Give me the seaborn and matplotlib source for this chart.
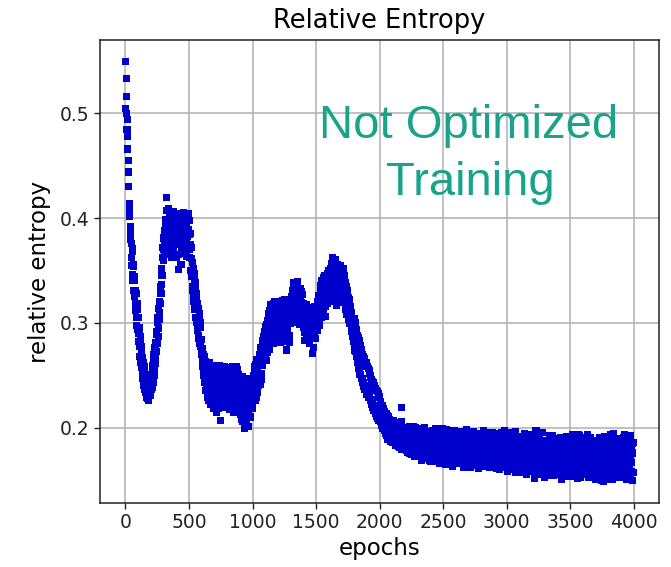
import numpy as np
import pandas as pd
import matplotlib
matplotlib.use("Agg")
import matplotlib.pyplot as plt
import seaborn as sns

# relative entropy values (x1000).
# series A: epochs 0, 5, 10, ...; series B: epochs 2.5, 7.5, 12.5, ...
# 20 values per 100-epoch block
entropy_a_0_1000 = [
    550, 533, 516, 494, 466, 444, 414, 402, 380, 376, 355, 368, 340, 354, 325, 340, 312, 328, 297, 313,
    305, 282, 293, 268, 283, 257, 272, 247, 262, 240, 253, 233, 247, 230, 243, 228, 240, 229, 244, 234,
    231, 250, 238, 259, 246, 270, 255, 281, 266, 292, 280, 305, 295, 320, 310, 335, 328, 352, 345, 372,
    370, 388, 376, 395, 372, 420, 385, 398, 366, 402, 378, 390, 362, 395, 383, 406, 371, 392, 380, 399,
    384, 362, 398, 375, 351, 392, 380, 404, 368, 388, 395, 372, 400, 381, 366, 393, 378, 402, 385, 371,
    398, 370, 385, 350, 372, 335, 358, 325, 347, 313, 338, 305, 328, 297, 318, 288, 309, 280, 300, 272,
    284, 258, 275, 250, 268, 243, 262, 238, 259, 232, 253, 226, 258, 240, 222, 251, 231, 259, 218, 246,
    236, 255, 222, 247, 230, 259, 218, 242, 251, 207, 238, 226, 254, 232, 219, 248, 240, 228, 257, 235,
    244, 221, 256, 233, 217, 249, 238, 226, 258, 230, 214, 246, 236, 252, 222, 241, 229, 255, 218, 240,
    231, 212, 245, 220, 238, 206, 226, 199, 241, 215, 233, 203, 224, 244, 211, 236, 218, 229, 247, 225,
]
entropy_a_1000_2000 = [
    222, 250, 231, 258, 226, 252, 238, 265, 233, 259, 246, 270, 241, 276, 252, 280, 259, 287, 266, 292,
    270, 296, 264, 302, 281, 306, 275, 312, 289, 317, 284, 303, 309, 280, 320, 293, 312, 287, 316, 298,
    298, 312, 287, 305, 318, 293, 309, 282, 314, 300, 322, 290, 306, 274, 311, 297, 319, 303, 288, 315,
    307, 325, 314, 331, 300, 338, 322, 312, 336, 318, 327, 305, 333, 320, 298, 326, 310, 330, 315, 303,
    318, 296, 283, 310, 302, 292, 315, 300, 288, 309, 297, 305, 285, 312, 271, 303, 294, 316, 289, 307,
    311, 298, 320, 306, 326, 314, 302, 331, 318, 340, 322, 310, 335, 325, 345, 316, 338, 328, 347, 333,
    341, 326, 352, 335, 357, 330, 362, 345, 320, 354, 338, 349, 317, 356, 341, 333, 350, 327, 346, 335,
    350, 326, 342, 352, 320, 340, 313, 335, 318, 308, 331, 303, 322, 299, 316, 292, 310, 287, 303, 282,
    304, 274, 297, 268, 291, 262, 286, 256, 280, 251, 276, 247, 272, 243, 268, 239, 264, 236, 260, 232,
    262, 234, 256, 229, 252, 226, 248, 222, 244, 219, 242, 216, 239, 213, 236, 211, 234, 209, 231, 207,
]
entropy_a_2000_3000 = [
    230, 206, 225, 202, 221, 199, 218, 197, 215, 194, 213, 192, 211, 189, 210, 193, 208, 187, 207, 191,
    203, 186, 207, 190, 201, 184, 205, 189, 199, 182, 203, 188, 197, 181, 206, 219, 194, 184, 200, 186,
    194, 182, 199, 187, 176, 195, 185, 201, 180, 191, 174, 197, 186, 182, 193, 178, 200, 188, 183, 192,
    190, 176, 195, 183, 172, 198, 186, 179, 193, 174, 188, 200, 181, 170, 192, 185, 177, 196, 184, 175,
    168, 188, 179, 197, 173, 185, 192, 176, 199, 182, 170, 190, 186, 178, 194, 171, 183, 196, 175, 189,
    184, 171, 193, 178, 165, 189, 181, 196, 174, 186, 169, 191, 177, 183, 163, 188, 175, 197, 180, 172,
    187, 174, 195, 170, 182, 190, 166, 185, 177, 193, 172, 180, 162, 189, 176, 184, 198, 171, 181, 168,
    176, 191, 169, 183, 174, 196, 180, 164, 187, 173, 179, 192, 167, 185, 175, 161, 189, 178, 194, 170,
    183, 168, 190, 176, 197, 172, 181, 163, 186, 177, 193, 170, 179, 188, 165, 184, 174, 195, 171, 180,
    173, 189, 166, 182, 175, 194, 169, 185, 160, 178, 191, 172, 183, 167, 187, 176, 197, 170, 181, 164,
]
entropy_a_3000_4000 = [
    179, 158, 186, 171, 193, 167, 182, 175, 190, 163, 177, 185, 169, 196, 174, 161, 188, 172, 180, 166,
    184, 170, 191, 163, 178, 187, 168, 175, 194, 160, 181, 173, 189, 165, 177, 186, 171, 158, 183, 176,
    170, 188, 162, 180, 151, 176, 197, 167, 184, 173, 159, 190, 178, 165, 186, 171, 182, 157, 175, 168,
    181, 164, 187, 172, 156, 178, 169, 192, 160, 176, 185, 166, 179, 154, 183, 171, 163, 189, 174, 158,
    168, 182, 155, 175, 190, 162, 179, 171, 153, 186, 166, 177, 160, 184, 173, 157, 188, 169, 180, 164,
    176, 159, 185, 167, 193, 154, 180, 172, 162, 188, 170, 151, 183, 165, 178, 192, 158, 174, 166, 186,
    161, 179, 170, 190, 155, 184, 167, 175, 152, 187, 163, 181, 173, 157, 178, 169, 185, 160, 176, 150,
    183, 162, 174, 156, 188, 168, 151, 179, 165, 185, 159, 176, 148, 182, 170, 154, 187, 166, 177, 161,
    172, 157, 184, 193, 163, 178, 150, 187, 168, 155, 181, 174, 160, 189, 166, 152, 179, 170, 185, 158,
    167, 181, 153, 190, 172, 160, 185, 175, 150, 188, 164, 178, 156, 183, 170, 192, 158, 176, 149, 186,
]
entropy_b_0_1000 = [
    505, 500, 485, 478, 455, 430, 408, 392, 386, 362, 371, 346, 356, 331, 344, 318, 331, 305, 318, 294,
    290, 295, 277, 287, 262, 277, 252, 267, 243, 258, 236, 251, 229, 246, 233, 239, 226, 243, 237, 245,
    242, 236, 255, 243, 266, 250, 276, 261, 289, 273, 300, 287, 314, 303, 328, 318, 345, 337, 362, 360,
    381, 365, 399, 383, 407, 376, 391, 409, 380, 369, 396, 385, 404, 374, 389, 367, 400, 386, 376, 394,
    375, 397, 386, 365, 401, 378, 389, 356, 395, 382, 370, 405, 387, 376, 398, 363, 391, 382, 404, 389,
    384, 362, 375, 344, 361, 331, 352, 320, 341, 316, 333, 300, 324, 293, 314, 285, 305, 277, 296, 270,
    272, 264, 252, 270, 246, 263, 235, 255, 243, 229, 249, 262, 233, 244, 255, 226, 241, 250, 229, 253,
    228, 249, 240, 214, 255, 236, 247, 225, 259, 233, 220, 244, 251, 229, 239, 258, 223, 246, 232, 253,
    232, 250, 226, 241, 255, 219, 245, 234, 222, 252, 240, 227, 248, 216, 258, 235, 246, 224, 251, 230,
    222, 240, 208, 231, 249, 216, 235, 204, 228, 245, 213, 238, 220, 201, 232, 247, 226, 210, 239, 218,
]
entropy_b_1000_2000 = [
    240, 227, 255, 235, 244, 260, 229, 248, 255, 240, 263, 250, 268, 246, 272, 262, 283, 270, 278, 287,
    283, 277, 298, 272, 290, 309, 283, 297, 305, 293, 314, 280, 299, 318, 290, 305, 296, 320, 284, 309,
    306, 294, 317, 281, 302, 310, 296, 321, 288, 308, 297, 313, 284, 302, 319, 292, 308, 281, 311, 299,
    318, 302, 329, 311, 322, 335, 307, 318, 328, 301, 339, 316, 309, 324, 312, 333, 303, 319, 327, 309,
    300, 312, 291, 306, 317, 284, 298, 309, 293, 280, 302, 314, 290, 298, 306, 276, 310, 299, 285, 313,
    302, 316, 293, 325, 309, 297, 320, 336, 305, 328, 314, 343, 320, 330, 306, 340, 322, 344, 318, 350,
    330, 348, 320, 344, 325, 350, 337, 355, 328, 346, 360, 331, 343, 324, 352, 338, 319, 345, 355, 329,
    338, 347, 322, 335, 345, 328, 338, 308, 326, 318, 311, 324, 300, 315, 306, 296, 304, 291, 296, 285,
    280, 300, 273, 294, 267, 288, 261, 283, 256, 278, 251, 274, 247, 270, 243, 266, 240, 262, 236, 258,
    240, 258, 235, 254, 231, 250, 227, 246, 224, 243, 221, 240, 218, 237, 215, 235, 213, 232, 211, 229,
]
entropy_b_2000_3000 = [
    210, 222, 206, 218, 203, 215, 201, 212, 199, 209, 196, 207, 194, 205, 192, 203, 190, 201, 188, 200,
    195, 198, 188, 196, 192, 183, 197, 186, 194, 190, 181, 195, 188, 192, 179, 199, 187, 193, 182, 191,
    187, 196, 178, 190, 183, 199, 175, 186, 194, 181, 189, 178, 201, 184, 172, 196, 187, 180, 198, 184,
    182, 193, 178, 187, 199, 169, 189, 181, 195, 177, 184, 171, 196, 180, 188, 173, 192, 181, 169, 189,
    184, 175, 193, 168, 186, 180, 173, 195, 178, 187, 197, 174, 182, 166, 191, 179, 187, 172, 199, 180,
    176, 193, 167, 184, 198, 173, 187, 170, 182, 192, 166, 179, 186, 172, 195, 181, 168, 184, 190, 177,
    178, 166, 188, 181, 173, 196, 184, 171, 191, 168, 186, 177, 194, 183, 170, 190, 165, 179, 187, 174,
    185, 172, 180, 162, 190, 177, 186, 196, 171, 182, 165, 188, 176, 193, 169, 184, 174, 181, 163, 187,
    171, 189, 175, 163, 184, 191, 167, 178, 195, 169, 183, 176, 162, 192, 180, 170, 187, 166, 189, 176,
    186, 168, 178, 194, 161, 183, 190, 174, 179, 167, 185, 162, 195, 176, 171, 190, 180, 165, 188, 177,
]
entropy_b_3000_4000 = [
    170, 184, 163, 195, 177, 160, 188, 168, 181, 173, 192, 164, 185, 178, 157, 183, 191, 169, 176, 186,
    166, 178, 184, 157, 189, 172, 161, 186, 179, 167, 190, 155, 175, 182, 164, 193, 169, 180, 162, 187,
    181, 164, 175, 193, 160, 185, 172, 155, 180, 189, 166, 177, 158, 183, 174, 195, 163, 188, 170, 152,
    169, 187, 159, 175, 183, 163, 190, 173, 154, 180, 168, 192, 157, 175, 188, 161, 178, 170, 185, 165,
    177, 159, 187, 166, 172, 181, 150, 175, 190, 163, 183, 155, 170, 178, 191, 164, 175, 153, 184, 171,
    165, 183, 153, 178, 170, 187, 161, 190, 168, 156, 180, 176, 193, 160, 186, 171, 152, 182, 189, 163,
    175, 156, 186, 163, 181, 169, 193, 158, 177, 171, 162, 190, 153, 183, 166, 188, 172, 156, 181, 167,
    170, 187, 155, 180, 160, 177, 190, 163, 173, 149, 184, 168, 180, 158, 191, 163, 175, 150, 183, 172,
    164, 190, 175, 155, 186, 160, 181, 171, 194, 163, 177, 185, 152, 171, 183, 176, 161, 189, 155, 178,
    184, 160, 175, 166, 193, 152, 182, 167, 179, 158, 186, 171, 162, 190, 151, 180, 167, 185, 175, 157,
]
epoch_step = 5
series_b_offset = 2.5

title = "Relative Entropy"
xlabel = "epochs"
ylabel = "relative entropy"
note_lines = ["Not Optimized", "Training"]
xticks = [0, 500, 1000, 1500, 2000, 2500, 3000, 3500, 4000]
yticks = [0.2, 0.3, 0.4, 0.5]

vals_a = np.array(entropy_a_0_1000 + entropy_a_1000_2000 + entropy_a_2000_3000 + entropy_a_3000_4000) / 1000.0
vals_b = np.array(entropy_b_0_1000 + entropy_b_1000_2000 + entropy_b_2000_3000 + entropy_b_3000_4000) / 1000.0
ep_a = np.arange(len(vals_a)) * epoch_step
ep_b = np.arange(len(vals_b)) * epoch_step + series_b_offset
df = pd.DataFrame({"epochs": np.concatenate([ep_a, ep_b]),
                   "relative entropy": np.concatenate([vals_a, vals_b])})

fig = plt.figure(figsize=(6.71, 5.67), dpi=100)
ax = fig.add_axes([100 / 671, 1 - 503 / 567, (659 - 100) / 671, (503 - 40) / 567])

sns.scatterplot(data=df, x="epochs", y="relative entropy", ax=ax, marker="s",
                s=26, color="#0000cc", edgecolor="none", linewidth=0)

ax.set_axisbelow(True)
ax.grid(True, color="#b0b0b0", linewidth=1.1)
ax.set_xticks(xticks)
ax.set_yticks(yticks)
ax.tick_params(labelsize=13.5, length=4, width=1, colors="#222222")
ax.set_title(title, fontsize=18.5, pad=9)
ax.set_xlabel(xlabel, fontsize=16.5, labelpad=3)
ax.set_ylabel(ylabel, fontsize=16.5, labelpad=6)
for sp in ax.spines.values():
    sp.set_color("#222222")
    sp.set_linewidth(1.1)
ax.margins(x=0.05, y=0.05)

teal = "#19a38b"
fig.text(469 / 671, 1 - 138 / 567, note_lines[0], ha="center", va="baseline",
         fontsize=34, color=teal, family="Liberation Sans")
fig.text(470 / 671, 1 - 195 / 567, note_lines[1], ha="center", va="baseline",
         fontsize=34, color=teal, family="Liberation Sans")

fig.savefig("out.png", dpi=100)
